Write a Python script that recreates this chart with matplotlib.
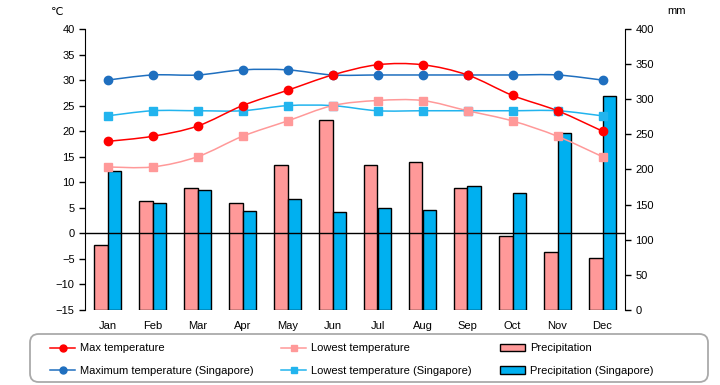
import numpy as np
import matplotlib
matplotlib.use("Agg")
import matplotlib.pyplot as plt
from matplotlib.path import Path
from matplotlib.patches import PathPatch, Patch, FancyBboxPatch
from matplotlib.lines import Line2D

months = ["Jan", "Feb", "Mar", "Apr", "May", "Jun", "Jul", "Aug", "Sep", "Oct", "Nov", "Dec"]
max_temp = [18, 19, 21, 25, 28, 31, 33, 33, 31, 27, 24, 20]
low_temp = [13, 13, 15, 19, 22, 25, 26, 26, 24, 22, 19, 15]
max_temp_sg = [30, 31, 31, 32, 32, 31, 31, 31, 31, 31, 31, 30]
low_temp_sg = [23, 24, 24, 24, 25, 25, 24, 24, 24, 24, 24, 23]
precip = [92, 155, 173, 152, 206, 270, 206, 210, 173, 106, 82, 74]
precip_sg = [198, 153, 171, 141, 158, 139, 145, 143, 176, 166, 252, 305]

plt.rcParams["font.family"] = ["Liberation Sans", "DejaVu Sans"]


def smooth_path(xs, ys):
    # Excel-style smoothed line: cubic bezier through every point
    pts = np.column_stack([xs, ys]).astype(float)
    ext = np.vstack([pts[0], pts, pts[-1]])
    verts = [pts[0]]
    codes = [Path.MOVETO]
    for i in range(len(pts) - 1):
        p0, p1, p2, p3 = ext[i], ext[i + 1], ext[i + 2], ext[i + 3]
        verts += [p1 + (p2 - p0) / 6, p2 - (p3 - p1) / 6, p2]
        codes += [Path.CURVE4] * 3
    return Path(verts, codes)


fig = plt.figure(figsize=(7.2, 3.85), dpi=100)
ax = fig.add_axes([85 / 720, 75 / 385, 540 / 720, 281 / 385])
ax2 = ax.twinx()
ax.set_zorder(ax2.get_zorder() + 1)
ax.patch.set_visible(False)
ax2.patch.set_facecolor("#FFFFCC")

x = np.arange(len(months))
w = 0.31
ax2.bar(x - w / 2, precip, width=w, color="#FF9999", edgecolor="black", linewidth=1.0, zorder=2)
ax2.bar(x + w / 2, precip_sg, width=w, color="#00B0F0", edgecolor="black", linewidth=1.0, zorder=2)

series = [
    (max_temp_sg, "#1F6FBF", "o"),
    (low_temp_sg, "#22B4EE", "s"),
    (low_temp, "#FF9999", "s"),
    (max_temp, "#FF0000", "o"),
]
for vals, col, mk in series:
    ax.add_patch(PathPatch(smooth_path(x, vals), fill=False, edgecolor=col, lw=1.1, zorder=3))
    ax.plot(x, vals, ls="none", marker=mk, color=col, markersize=6, zorder=4)

ax.axhline(0, color="black", lw=1.0, zorder=3)

ax.set_xlim(-0.5, 11.5)
ax.set_ylim(-15, 40)
ax.set_yticks(np.arange(-15, 41, 5))
ax2.set_ylim(0, 400)
ax2.set_yticks(np.arange(0, 401, 50))
ax.set_xticks(x)
ax.set_xticklabels(months)

for a in (ax, ax2):
    a.spines["top"].set_visible(False)
    a.spines["bottom"].set_visible(False)
    a.tick_params(labelsize=8, length=4, width=1, direction="out")
ax.tick_params(axis="x", length=0, pad=8)
ax.spines["right"].set_visible(False)
ax2.spines["left"].set_visible(False)

fig.text(57 / 720, 1 - 12 / 385, "℃", fontsize=8, ha="center", va="center")
fig.text(677 / 720, 1 - 11 / 385, "mm", fontsize=8, ha="center", va="center")

# legend frame (rounded box, wider than the entries)
frame = FancyBboxPatch((30 / 720, 3 / 385), 678 / 720, 48 / 385,
                       boxstyle="round,pad=0,rounding_size=0.012", mutation_aspect=720 / 385,
                       transform=fig.transFigure, facecolor="white", edgecolor="#AAAAAA", lw=1.3)
fig.patches.append(frame)

handles = [
    Line2D([], [], color="#FF0000", marker="o", markersize=5, lw=1.1),
    Line2D([], [], color="#1F6FBF", marker="o", markersize=5, lw=1.1),
    Line2D([], [], color="#FF9999", marker="s", markersize=5, lw=1.1),
    Line2D([], [], color="#22B4EE", marker="s", markersize=5, lw=1.1),
    Patch(facecolor="#FF9999", edgecolor="black"),
    Patch(facecolor="#00B0F0", edgecolor="black"),
]
labels = [
    "Max temperature",
    "Maximum temperature (Singapore)",
    "Lowest temperature",
    "Lowest temperature (Singapore)",
    "Precipitation",
    "Precipitation (Singapore)",
]
leg = fig.legend(handles, labels, ncol=3, loc="center left",
                 bbox_to_anchor=(50 / 720, 1 - 359.5 / 385),
                 fontsize=8, frameon=False,
                 handlelength=2.25, handletextpad=0.45, labelspacing=1.1,
                 columnspacing=2.5, borderpad=0, borderaxespad=0)

fig.savefig("out.png", dpi=100)
